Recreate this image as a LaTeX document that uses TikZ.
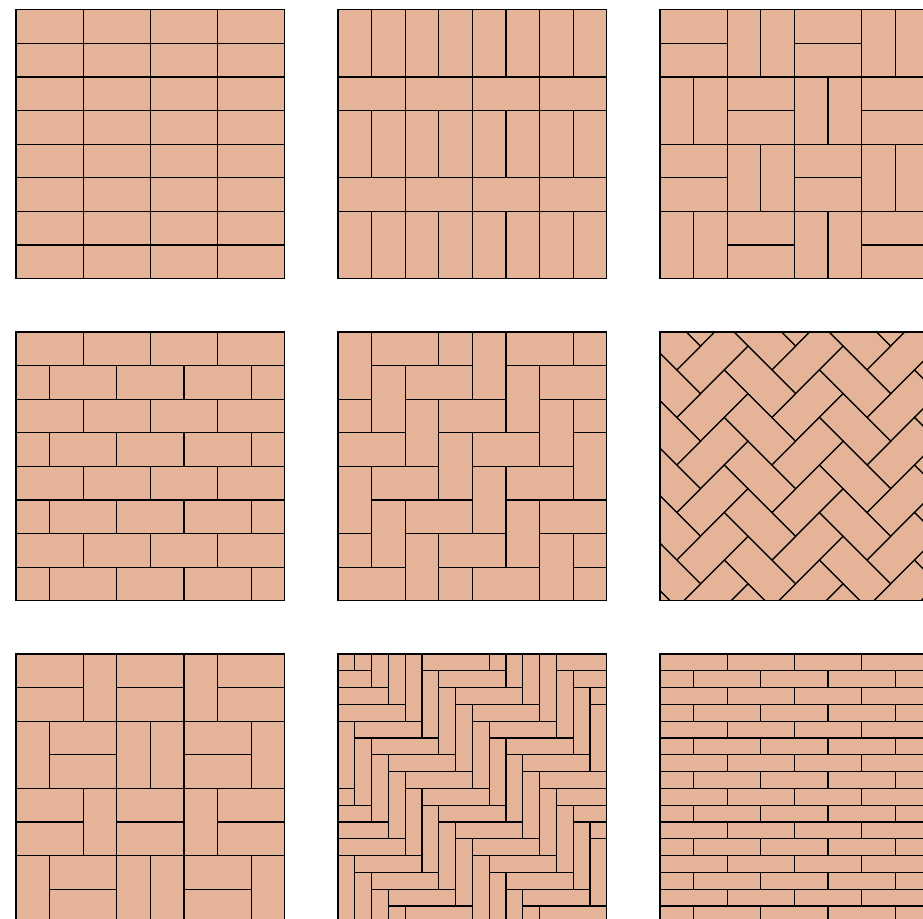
\documentclass[tikz,border=0pt]{standalone}
\definecolor{brickfill}{RGB}{229,180,152}
\newcommand{\drawbrick}[4]{\draw[brk] (#1,#2) rectangle ++(#3,#4);}
\begin{document}
\begin{tikzpicture}[x=1cm,y=-1cm,
  brk/.style={fill=brickfill,draw=black,line width=1.05pt},
  panelframe/.style={draw=black,line width=1.05pt}]
\useasboundingbox (0,0) rectangle (27.470,27.351);
\clip (0,0) rectangle (27.470,27.351);
\fill[white] (0,0) rectangle (27.470,27.351);
% ---------- P1: stack bond ----------
\begin{scope}[shift={(0.4762,0.29)}]
 \begin{scope}
  \clip (0,0) rectangle (8,8);
  \foreach \r in {0,...,7}{\foreach \c in {0,...,3}{\drawbrick{2*\c}{\r}{2}{1}}}
 \end{scope}
 \draw[panelframe] (0,0) rectangle (8,8);
\end{scope}
% ---------- P2: vertical rows with horizontal courses ----------
\begin{scope}[shift={(10.0595,0.29)}]
 \begin{scope}
  \clip (0,0) rectangle (8,8);
  \foreach \y in {0,3,6}{\foreach \c in {0,...,7}{\drawbrick{\c}{\y}{1}{2}}}
  \foreach \y in {2,5}{\foreach \c in {0,...,3}{\drawbrick{2*\c}{\y}{2}{1}}}
 \end{scope}
 \draw[panelframe] (0,0) rectangle (8,8);
\end{scope}
% ---------- P3: basket weave ----------
\begin{scope}[shift={(19.6429,0.29)}]
 \begin{scope}
  \clip (0,0) rectangle (8,8);
  \foreach \i in {0,...,3}{\foreach \j in {0,...,3}{
    \pgfmathtruncatemacro\p{mod(\i+\j,2)}
    \ifnum\p=0
      \drawbrick{2*\i}{2*\j}{2}{1}\drawbrick{2*\i}{2*\j+1}{2}{1}
    \else
      \drawbrick{2*\i}{2*\j}{1}{2}\drawbrick{2*\i+1}{2*\j}{1}{2}
    \fi}}
 \end{scope}
 \draw[panelframe] (0,0) rectangle (8,8);
\end{scope}
% ---------- P4: running bond ----------
\begin{scope}[shift={(0.4762,9.881)}]
 \begin{scope}
  \clip (0,0) rectangle (8,8);
  \foreach \r in {0,...,7}{
    \pgfmathtruncatemacro\off{mod(\r,2)}
    \foreach \c in {0,...,4}{\drawbrick{2*\c-\off}{\r}{2}{1}}}
 \end{scope}
 \draw[panelframe] (0,0) rectangle (8,8);
\end{scope}
% ---------- P5: herringbone ----------
\begin{scope}[shift={(10.0595,9.881)}]
 \begin{scope}
  \clip (0,0) rectangle (8,8);
  \foreach \a in {-3,...,8}{\foreach \m in {-3,...,2}{
    \drawbrick{\a+4*\m}{\a}{1}{2}
    \drawbrick{\a+4*\m+1}{\a}{2}{1}}}
 \end{scope}
 \draw[panelframe] (0,0) rectangle (8,8);
\end{scope}
% ---------- P6: diagonal herringbone ----------
\begin{scope}[shift={(19.6429,9.881)}]
 \begin{scope}
  \clip (0,0) rectangle (8,8);
  \begin{scope}[shift={(-0.914,-0.284)},rotate=-45]
  \foreach \a in {-9,...,7}{\foreach \m in {-3,...,6}{
    \drawbrick{\a+4*\m}{\a}{1}{2}
    \drawbrick{\a+4*\m+1}{\a}{2}{1}}}
  \end{scope}
 \end{scope}
 \draw[panelframe] (0,0) rectangle (8,8);
\end{scope}
% ---------- P7: pinwheel basket ----------
\begin{scope}[shift={(0.4762,19.464)}]
 \begin{scope}
  \clip (0,0) rectangle (8,8);
  \foreach \y in {0,4}{
    \drawbrick{0}{\y}{2}{1}\drawbrick{0}{\y+1}{2}{1}
    \drawbrick{2}{\y}{1}{2}
    \drawbrick{3}{\y}{2}{1}\drawbrick{3}{\y+1}{2}{1}
    \drawbrick{5}{\y}{1}{2}
    \drawbrick{6}{\y}{2}{1}\drawbrick{6}{\y+1}{2}{1}}
  \foreach \y in {2,6}{
    \drawbrick{0}{\y}{1}{2}
    \drawbrick{1}{\y}{2}{1}\drawbrick{1}{\y+1}{2}{1}
    \drawbrick{3}{\y}{1}{2}\drawbrick{4}{\y}{1}{2}
    \drawbrick{5}{\y}{2}{1}\drawbrick{5}{\y+1}{2}{1}
    \drawbrick{7}{\y}{1}{2}}
 \end{scope}
 \draw[panelframe] (0,0) rectangle (8,8);
\end{scope}
% ---------- P8: herringbone with long bricks ----------
\begin{scope}[shift={(10.0595,19.464)}]
 \begin{scope}
  \clip (0,0) rectangle (8,8);
  \begin{scope}[scale=0.5]
  \foreach \a in {-4,...,16}{\foreach \m in {-3,...,2}{
    \drawbrick{\a+4+8*\m}{\a}{1}{4}
    \drawbrick{\a+5+8*\m}{\a}{4}{1}}}
  \end{scope}
 \end{scope}
 \draw[panelframe] (0,0) rectangle (8,8);
\end{scope}
% ---------- P9: running bond, long bricks ----------
\begin{scope}[shift={(19.6429,19.464)}]
 \begin{scope}
  \clip (0,0) rectangle (8,8);
  \foreach \r in {0,...,15}{
    \pgfmathtruncatemacro\off{mod(\r,2)}
    \foreach \c in {0,...,4}{\drawbrick{2*\c-\off}{\r*0.5}{2}{0.5}}}
 \end{scope}
 \draw[panelframe] (0,0) rectangle (8,8);
\end{scope}
\end{tikzpicture}
\end{document}
